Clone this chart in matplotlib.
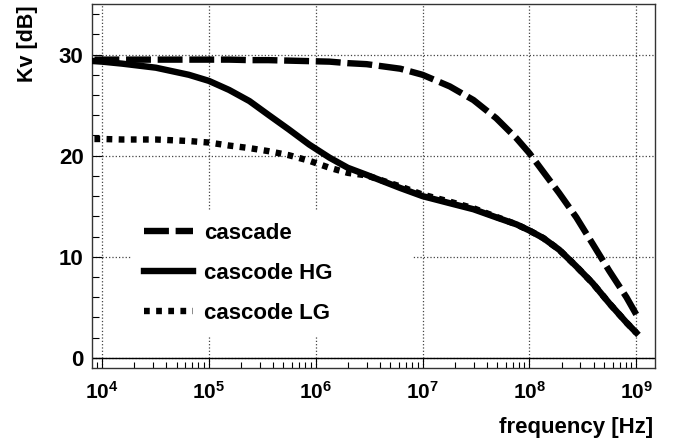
import matplotlib
matplotlib.use("Agg")
from matplotlib import pyplot as plt
from matplotlib.ticker import FixedLocator, FuncFormatter, NullFormatter
import numpy as np

plt.rcParams['font.family'] = ['Liberation Sans', 'DejaVu Sans']
plt.rcParams['font.weight'] = 'bold'
plt.rcParams['mathtext.fontset'] = 'custom'
plt.rcParams['mathtext.rm'] = 'Liberation Sans:bold'
plt.rcParams['mathtext.it'] = 'Liberation Sans:bold'
plt.rcParams['mathtext.bf'] = 'Liberation Sans:bold'
plt.rcParams['mathtext.default'] = 'rm'

# frequency points [Hz]
freq = [8.5e3, 1e4, 1.55e4, 3.2e4, 6.5e4, 1e5, 1.55e5, 2.4e5, 3.6e5, 5.6e5,
        8.7e5, 1.35e6, 2.0e6, 3.0e6, 6.2e6, 1e7, 1.8e7, 3.0e7, 4.9e7, 7.6e7,
        1e8, 1.35e8, 1.9e8, 2.75e8, 3.9e8, 5.6e8, 8.1e8, 1e9]

# voltage gain Kv [dB]
cascade = [29.5, 29.5, 29.5, 29.5, 29.5, 29.5, 29.5, 29.45, 29.45, 29.4,
           29.35, 29.3, 29.15, 29.05, 28.6, 28.0, 26.85, 25.5, 23.7, 21.7,
           20.25, 18.4, 16.3, 13.9, 11.3, 8.6, 6.0, 4.3]
cascode_hg = [29.35, 29.3, 29.1, 28.7, 28.0, 27.4, 26.5, 25.4, 24.05, 22.6,
              21.1, 19.8, 18.8, 18.1, 16.8, 16.0, 15.3, 14.7, 13.9, 13.2,
              12.6, 11.85, 10.7, 9.05, 7.4, 5.4, 3.5, 2.5]
cascode_lg = [21.65, 21.65, 21.6, 21.6, 21.45, 21.3, 21.0, 20.75, 20.45, 20.05,
              19.5, 18.8, 18.3, 18.05, 16.95, 16.15, 15.45, 14.8, 13.95, 13.2,
              12.6, 11.85, 10.7, 9.05, 7.4, 5.4, 3.5, 2.5]

labels = ['cascade', 'cascode HG', 'cascode LG']

fig = plt.figure(figsize=(6.8, 4.45), dpi=100)
ax = fig.add_axes([0.1353, 0.173, 0.828, 0.818])

lw = 4.6
ax.plot(freq, cascade, color='black', lw=lw, dashes=[3.9, 1.05],
        dash_capstyle='butt', label=labels[0], zorder=3)
ax.plot(freq, cascode_hg, color='black', lw=lw, label=labels[1], zorder=3)
ax.plot(freq, cascode_lg, color='black', lw=lw, dashes=[0.9, 1.0],
        dash_capstyle='butt', label=labels[2], zorder=3)

ax.axhline(0, color='black', lw=1.0, zorder=2)

ax.set_xscale('log')
ax.set_xlim(8.07e3, 1.5e9)
ax.set_ylim(-1, 35)

ax.xaxis.set_major_locator(FixedLocator([1e4, 1e5, 1e6, 1e7, 1e8, 1e9]))
minors = [m * 10.0 ** e for e in range(3, 10) for m in range(2, 10)]
ax.xaxis.set_minor_locator(FixedLocator(minors))
ax.xaxis.set_major_formatter(FuncFormatter(lambda v, p: r'$10^{%d}$' % round(np.log10(v))))
ax.xaxis.set_minor_formatter(NullFormatter())

ax.yaxis.set_major_locator(FixedLocator([0, 10, 20, 30]))
ax.yaxis.set_minor_locator(FixedLocator(list(range(0, 36, 2))))

ax.tick_params(axis='both', which='both', direction='in', top=False, right=False,
               width=0.8)
ax.tick_params(axis='x', which='major', length=7.5, pad=9, labelsize=15)
ax.tick_params(axis='x', which='minor', length=4)
ax.tick_params(axis='y', which='major', length=7.5, pad=6, labelsize=16)
ax.tick_params(axis='y', which='minor', length=5)

ax.grid(True, which='major', color='#444444', linestyle=':', lw=0.9)
ax.set_axisbelow(True)
for s in ax.spines.values():
    s.set_linewidth(1.0)
    s.set_color('#333333')

leg = ax.legend(loc='upper left', bbox_to_anchor=(0.071, 0.099, 0.499, 0.333),
                mode='expand', fontsize=16, frameon=True, fancybox=False,
                edgecolor='none', facecolor='white', framealpha=1.0,
                handlelength=2.2, handletextpad=0.5, labelspacing=0.86,
                borderpad=0.55, borderaxespad=0.0)
leg.set_zorder(5)

fig.text(27 / 680, 1 - 5 / 445, 'Kv [dB]', rotation=90, ha='center', va='top',
         fontsize=15.5, fontweight='bold')
fig.text(653 / 680, 1 - 427 / 445, 'frequency [Hz]', ha='right', va='center',
         fontsize=16, fontweight='bold')

fig.savefig('out.png', dpi=100)
